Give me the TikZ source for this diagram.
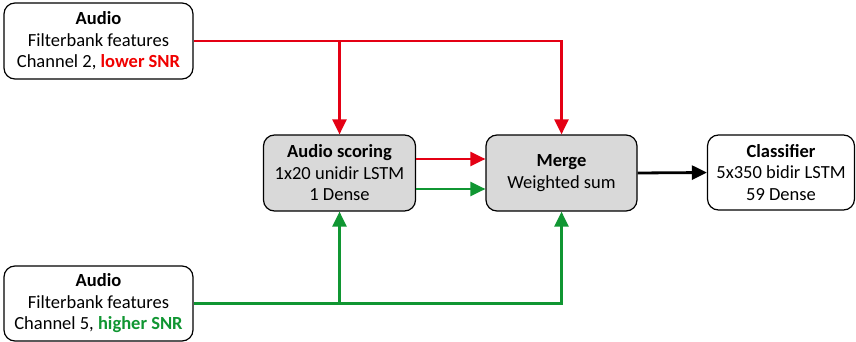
\documentclass[tikz,border=0pt]{standalone}
\usepackage{fontspec}
\setmainfont{Carlito}
\usetikzlibrary{arrows.meta,calc}
\definecolor{sigred}{RGB}{228,0,20}
\definecolor{sigtxtred}{RGB}{240,0,0}
\definecolor{siggreen}{RGB}{16,150,50}
\definecolor{boxgray}{RGB}{217,217,217}
\tikzset{
  blockbox/.style={draw=black, line width=1.2pt, rounded corners=11pt, align=center,
    font=\fontsize{18.5}{21.5}\selectfont, inner sep=0pt},
  graybox/.style={blockbox, fill=boxgray},
  redline/.style={draw=sigred, line width=2.4pt},
  greenline/.style={draw=siggreen, line width=2.4pt},
  tip/.style={-{Triangle[length=15pt,width=14pt]}},
}
\begin{document}
\begin{tikzpicture}[x=1pt,y=-1pt]
\useasboundingbox (0,0) rectangle (856,342);
\node[blockbox, minimum width=189pt, minimum height=76pt] (in2) at (98.5,41)
  {\textbf{Audio}\\Filterbank features\\Channel 2, \textcolor{sigtxtred}{\textbf{lower SNR}}};
\node[blockbox, minimum width=189pt, minimum height=75pt] (in5) at (98.5,303.5)
  {\textbf{Audio}\\Filterbank features\\Channel 5, \textcolor{siggreen}{\textbf{higher SNR}}};
\node[graybox, minimum width=152pt, minimum height=76pt] (score) at (339.5,173)
  {\textbf{Audio scoring}\\1x20 unidir LSTM\\1 Dense};
\node[graybox, minimum width=151pt, minimum height=76pt] (merge) at (561.5,173)
  {\textbf{Merge}\\Weighted sum};
\node[blockbox, minimum width=147pt, minimum height=75pt] (cls) at (781,172.5)
  {\textbf{Classifier}\\5x350 bidir LSTM\\59 Dense};
% split points on the input lines
\coordinate (rsplit) at (in2.east -| score.north);
\coordinate (gsplit) at (in5.east -| score.south);
% channel 2 (red) paths
\draw[redline, tip] (in2.east) -- (in2.east -| merge.north) -- (merge.north);
\draw[redline, tip] (rsplit) -- (score.north);
\draw[redline, tip] ($(score.east)+(0,-14)$) -- ($(merge.west)+(0,-14)$);
% channel 5 (green) paths
\draw[greenline, tip] (in5.east) -- (in5.east -| merge.south) -- (merge.south);
\draw[greenline, tip] (gsplit) -- (score.south);
\draw[greenline, tip] ($(score.east)+(0,16)$) -- ($(merge.west)+(0,16)$);
% merged output to classifier
\draw[line width=2.8pt, tip] (merge.east) -- (cls.west);
\end{tikzpicture}
\end{document}
